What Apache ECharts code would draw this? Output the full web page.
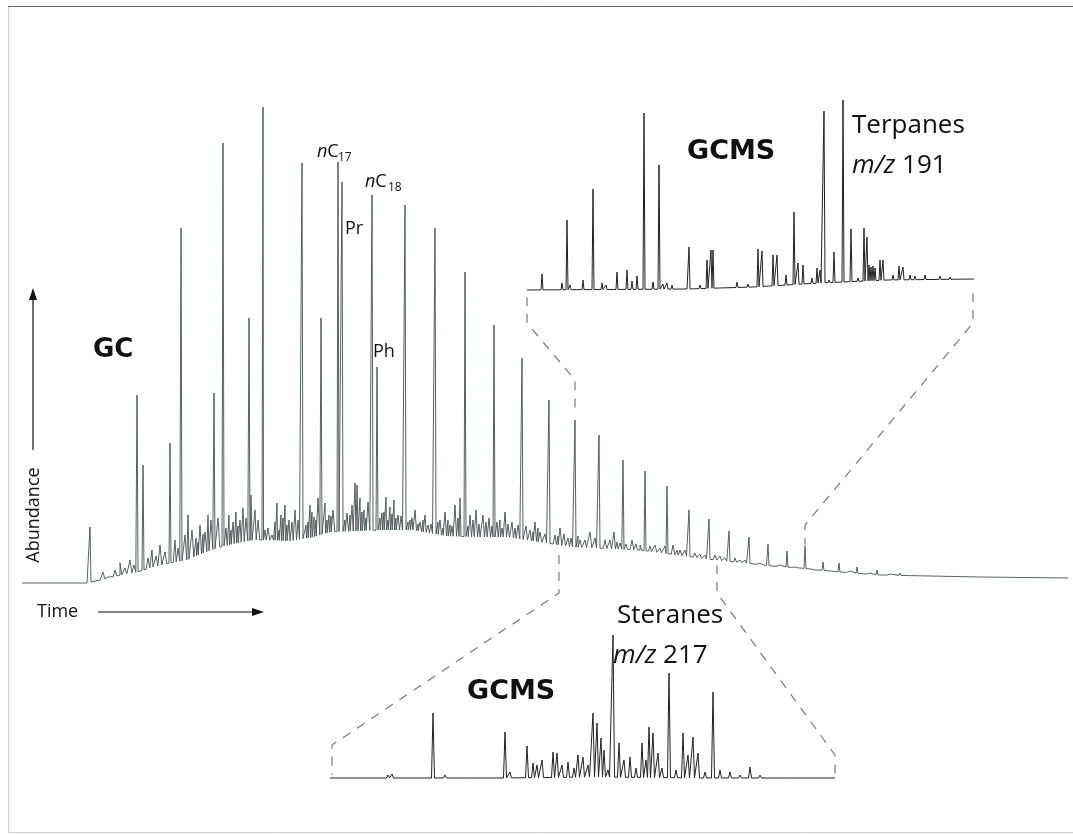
<!DOCTYPE html>
<html><head><meta charset="utf-8">
<script src="https://cdn.jsdelivr.net/npm/echarts@6/dist/echarts.min.js"></script>
<style>html,body{margin:0;padding:0;background:#fff}#c{width:1073px;height:835px}</style>
</head><body><div id="c"></div>
<script>
// ---------- GC trace (retention time, abundance; arbitrary units) ----------
const gcBaseX = [22,87,100,120,137,153,170,187,203,220,237,253,270,290,313,330,380,413,447,480,507,540,573,640,707,773,800,840,880,980,1068];
const gcBaseY = [17,17,20,25,28,33,37,40,47,53,57,60,60,59,63,68,70,70,64,63,63,58,53,50,41,34,32,28,25,23,22];
const gcPeakX = [90,137,143,170,181,188,208,214,223,249,251,263,302,321,338,342,357,372,377,405,435,460,465,494,522,549,575,599,623,645,667,689,709,729,749,768,787,805,823,839,857,877,900,957];
const gcPeakY = [73,205,135,157,372,85,85,207,457,282,105,493,437,282,438,418,115,405,233,395,372,102,328,275,242,200,180,165,140,129,114,90,81,69,63,56,49,54,38,37,33,30,27,25];
const gcNoiseX = [103,108,115,120,125,130,134,148,152,156,160,165,175,178,185,192,196,200,205,211,218,226,229,233,236,240,243,246,255,258,268,272,277,281,285,289,295,306,310,314,318,325,329,333,347,352,355,360,364,368,382,386,390,394,398,410,415,420,425,428,440,445,450,455,470,476,483,489,500,505,512,518,530,535,540,555,560,568,580,590,605,614,620,632,640,655,673,680,695,715,725,740,760,775,795,815,865,890,920,940,980];
const gcNoiseY = [28,23,30,37,32,40,35,42,50,44,55,48,60,52,65,70,62,75,68,80,82,72,85,78,88,80,92,82,90,80,72,65,97,85,95,80,90,75,95,83,102,97,85,90,87,95,117,102,90,98,87,103,93,100,85,80,90,78,85,75,80,88,75,95,85,90,85,82,80,88,78,75,70,78,68,65,72,62,60,68,60,68,57,60,55,55,55,50,47,45,42,40,37,35,33,30,28,26,24,25,24];
const gcFineX = [198,203,231,238,265,275,279,283,287,292,298,308,312,316,327,331,345,350,362,366,380,384,388,392,396,401,408,412,418,423,431,438,443,448,452,458,468,473,479,486,492,497,502,508,515,526,533,538,545,558,564,571,578,585,595,610,617,626,636,650,660,665,677,685,700,705,720,735,745,755,765,780,790,800,810,830,845,850,870,885,910];
const gcFineY = [58,66,70,74,70,78,70,82,75,78,80,78,88,80,80,84,80,85,88,82,82,88,80,86,82,84,78,82,76,80,76,78,72,80,74,82,74,80,76,78,74,78,72,76,72,74,68,72,66,64,66,62,64,60,62,60,58,56,56,54,52,54,50,50,46,45,44,42,40,38,37,35,34,33,32,30,29,29,27,26,25];

// ---------- GCMS terpanes, m/z 191 ----------
const terpBaseX = [527,687,753,820,887,974];
const terpBaseY = [0,1,3,7,10,11];
const terpPeakX = [542,562,567,570,583,593,602,606,617,627,632,637,644,653,659,663,667,672,689,700,707,711,713,737,748,758,762,773,777,786,794,798,803,812,817,820,824,829,834,843,851,858,864,867,869,871,873,875,880,883,893,899,903,910,915,925,940,950,960];
const terpPeakY = [16,7,70,5,10,101,7,5,18,20,9,14,177,8,125,6,7,5,43,5,30,40,40,8,6,41,39,35,35,15,78,27,25,12,22,20,179,10,38,190,61,12,62,53,25,23,24,22,30,30,15,24,23,15,14,15,14,13,12];

// ---------- GCMS steranes, m/z 217 ----------
const sterBaseX = [330,500,600,700,835];
const sterBaseY = [2,2,3,2,2];
const sterPeakX = [388,392,400,433,445,455,470,505,510,527,533,537,542,553,557,562,568,574,578,583,588,593,597,601,604,608,613,619,624,630,636,642,646,649,653,658,662,669,676,683,688,693,698,705,713,720,730,740,750,760,790];
const sterPeakY = [5,6,4,67,5,4,4,48,8,34,17,15,20,28,27,15,18,12,25,23,15,67,57,42,30,10,145,37,20,23,12,37,20,53,47,27,12,107,10,47,25,43,27,8,88,10,8,5,13,5,4];

// zoom windows on the GC time axis
const steraneWindow = [559, 717];
const terpaneWindow = [575, 805];

function baseAt(bx, by, x) {
  if (x <= bx[0]) return by[0];
  for (let i = 1; i < bx.length; i++) {
    if (x <= bx[i]) { const t = (x - bx[i-1]) / (bx[i] - bx[i-1]); return by[i-1] + t * (by[i] - by[i-1]); }
  }
  return by[by.length - 1];
}
function trace(bx, by, sets) {
  const pts = bx.map((x, i) => [x, by[i]]);
  sets.forEach(s => s.x.forEach((x, i) => {
    pts.push([x - s.w, baseAt(bx, by, x - s.w)], [x, s.y[i]], [x + s.w, baseAt(bx, by, x + s.w)]);
  }));
  pts.sort((a, b) => a[0] - b[0]);
  return pts;
}

const gcData = trace(gcBaseX, gcBaseY, [{x: gcPeakX, y: gcPeakY, w: 1}, {x: gcNoiseX, y: gcNoiseY, w: 1.8}, {x: gcFineX, y: gcFineY, w: 1.5}]);
const terpData = trace(terpBaseX, terpBaseY, [{x: terpPeakX, y: terpPeakY, w: 1}]);
const sterData = trace(sterBaseX, sterBaseY, [{x: sterPeakX, y: sterPeakY, w: 1.5}]);

const chart = echarts.init(document.getElementById('c'), null, {renderer: 'canvas'});
const hiddenX = (min, max, gi) => ({type: 'value', min, max, gridIndex: gi, show: false, splitLine: {show: false}});
const hiddenY = (min, max, gi) => ({type: 'value', min, max, gridIndex: gi, show: false, splitLine: {show: false}});
chart.setOption({
  animation: false,
  backgroundColor: '#fff',
  grid: [
    {left: 22, top: 100, width: 1046, height: 500},
    {left: 527, top: 80, width: 447, height: 210},
    {left: 330, top: 600, width: 505, height: 180}
  ],
  xAxis: [hiddenX(22, 1068, 0), hiddenX(527, 974, 1), hiddenX(330, 835, 2)],
  yAxis: [hiddenY(0, 500, 0), hiddenY(0, 210, 1), hiddenY(0, 180, 2)],
  series: [
    {type: 'line', xAxisIndex: 0, yAxisIndex: 0, data: gcData, showSymbol: false, symbol: 'none', clip: false, silent: true, lineStyle: {width: 0.9, color: '#45504e'}},
    {type: 'line', xAxisIndex: 1, yAxisIndex: 1, data: terpData, showSymbol: false, symbol: 'none', clip: false, silent: true, lineStyle: {width: 1, color: '#222'}},
    {type: 'line', xAxisIndex: 2, yAxisIndex: 2, data: sterData, showSymbol: false, symbol: 'none', clip: false, silent: true, lineStyle: {width: 1, color: '#222'}}
  ]
});

const P = (g, x, y) => chart.convertToPixel({gridIndex: g}, [x, y]);
const dash = {stroke: '#7a7a7a', lineWidth: 1.2, lineDash: [9, 8], fill: null};
const links = [
  [P(0, steraneWindow[0], 45), P(0, steraneWindow[0], 7), P(2, 332, 35), P(2, 332, 5)],
  [P(0, steraneWindow[1], 35), P(0, steraneWindow[1], 7), P(2, 835, 25), P(2, 835, 5)],
  [P(1, 527, -7), P(1, 527, -33), P(0, terpaneWindow[0], 220), P(0, terpaneWindow[0], 185)],
  [P(1, 973, -3), P(1, 973, -33), P(0, terpaneWindow[1], 75), P(0, terpaneWindow[1], 55)]
];
const OS = '"Open Sans", sans-serif';
const txt = (text, x, y, font, extra) => Object.assign({type: 'text', silent: true, x, y, style: Object.assign({text, font, fill: '#111', textAlign: 'left', textVerticalAlign: 'middle', align: 'left', verticalAlign: 'middle'}, extra || {})});
const ital = (size) => ({fontStyle: 'italic', fontSize: size, fontFamily: 'Open Sans', fill: '#111'});
const reg = (size) => ({fontSize: size, fontFamily: 'Open Sans', fill: '#111'});

const elements = [
  {type: 'rect', silent: true, shape: {x: 8.5, y: 6.5, width: 1075, height: 826}, style: {fill: null, stroke: '#cfcfcf', lineWidth: 1}},
  {type: 'line', silent: true, shape: {x1: 8, y1: 6.5, x2: 1073, y2: 6.5}, style: {stroke: '#6a6a6a', lineWidth: 1}},
  ...links.map(p => ({type: 'polyline', silent: true, shape: {points: p}, style: dash})),
  // axis arrows
  {type: 'line', silent: true, shape: {x1: 33, y1: 450, x2: 33, y2: 298}, style: {stroke: '#111', lineWidth: 1.2}},
  {type: 'polygon', silent: true, shape: {points: [[33, 288], [29, 300], [37, 300]]}, style: {fill: '#111'}},
  {type: 'line', silent: true, shape: {x1: 98, y1: 612, x2: 255, y2: 612}, style: {stroke: '#111', lineWidth: 1.2}},
  {type: 'polygon', silent: true, shape: {points: [[264, 612], [252, 608], [252, 616]]}, style: {fill: '#111'}},
  // labels
  txt('GC', 93, 350.6, 'bold 26px "DejaVu Sans", sans-serif'),
  txt('GCMS', 687, 152.3, 'bold 27px "DejaVu Sans", sans-serif'),
  txt('GCMS', 467, 692.3, 'bold 27px "DejaVu Sans", sans-serif'),
  txt('Terpanes', 852, 125.6, '26px ' + OS),
  txt('{i|m/z}{r| 191}', 852, 165.6, '26px ' + OS, {rich: {i: ital(26), r: reg(26)}}),
  txt('Steranes', 617, 615.6, '26px ' + OS),
  txt('{i|m/z}{r| 217}', 613, 655.6, '26px ' + OS, {rich: {i: ital(26), r: reg(26)}}),
  txt('{i|n}{r|C}', 317, 151.5, '18px ' + OS, {rich: {i: ital(18), r: reg(18)}}),
  txt('17', 338, 157.7, '12px ' + OS),
  txt('{i|n}{r|C}', 365, 181.5, '18px ' + OS, {rich: {i: ital(18), r: reg(18)}}),
  txt('18', 388, 187.7, '12px ' + OS),
  txt('Pr', 345, 228.5, '18px ' + OS),
  txt('Ph', 373, 351.5, '18px ' + OS),
  txt('Time', 37, 611.5, '18px ' + OS),
  {type: 'text', silent: true, x: 34, y: 515, rotation: Math.PI / 2, style: {text: 'Abundance', font: '18px ' + OS, fill: '#111', textAlign: 'center', textVerticalAlign: 'middle', align: 'center', verticalAlign: 'middle'}}
];
chart.setOption({graphic: {elements}});
</script></body></html>
